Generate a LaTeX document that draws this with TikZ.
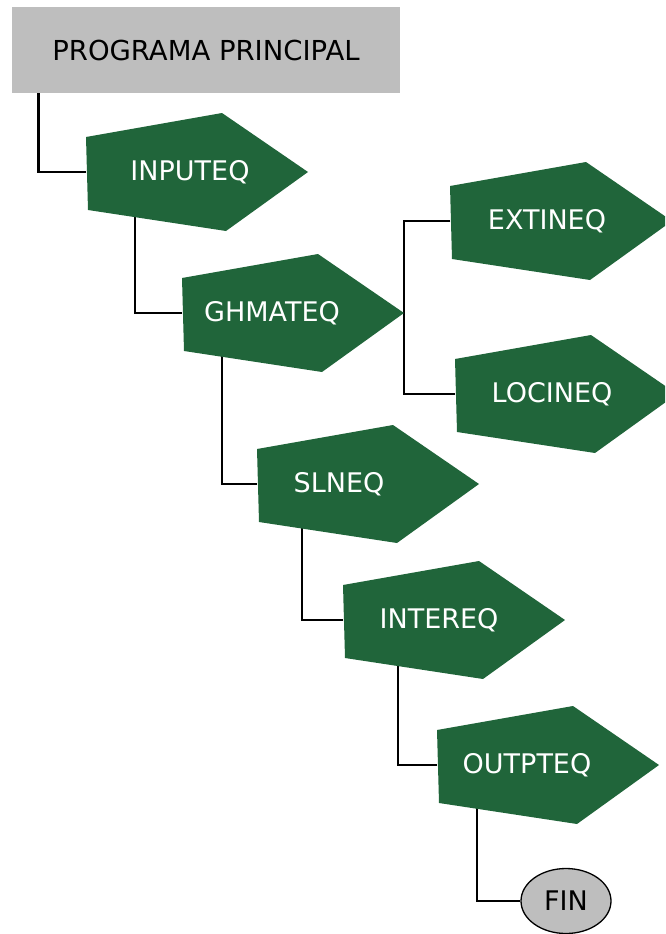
\documentclass[tikz,border=0pt]{standalone}
\usepackage{fontspec}
\setmainfont{DejaVu Sans}
\usetikzlibrary{calc,backgrounds,shapes.geometric}

\definecolor{verdemod}{RGB}{32,101,58}
\definecolor{grismod}{RGB}{190,190,190}

\tikzset{
  modfill/.style={fill=verdemod},
  etiq/.style={text=white, font=\fontsize{27}{31}\selectfont, anchor=base, inner sep=0pt},
  conector/.style={draw=black, line width=2.8pt},
}

% modulo: nombre, punto izquierdo, desplazamiento del texto, texto
\newcommand{\modulo}[4]{%
  \coordinate (#1) at (#2);
  \coordinate (#1-p) at ($(#1)+(222,0)$);
  \fill[modfill] (#1) ++(0,-35) -- ++(136,-24) -- ++(86,59) -- ++(-82,59) -- ++(-138,-21) -- cycle;
  \node[etiq] (#1-txt) at ($(#1)+(#3,8)$) {#4};
}

\begin{document}
\begin{tikzpicture}[x=1pt,y=-1pt]
    \useasboundingbox (0,0) rectangle (665,934);
    \clip (0,0) rectangle (665,934);

    \node[fill=grismod, minimum width=388pt, minimum height=86pt, inner sep=0pt,
          font=\fontsize{27.5}{31}\selectfont] (prog) at (206,50) {PROGRAMA PRINCIPAL};

    \modulo{inp}{86,172}{104}{INPUTEQ}
    \modulo{ghm}{182,313}{90}{GHMATEQ}
    \modulo{ext}{450,221}{97}{EXTINEQ}
    \modulo{loc}{455,394}{97}{LOCINEQ}
    \modulo{sln}{257,484}{82}{SLNEQ}
    \modulo{int}{343,620}{96}{INTEREQ}
    \modulo{out}{437,765}{90}{OUTPTEQ}

    \node[ellipse, draw=black, line width=1.3pt, fill=grismod, minimum width=90pt, minimum height=65pt,
          inner sep=0pt, font=\fontsize{27}{31}\selectfont] (fin) at (566,901) {FIN};

    \begin{pgfonlayer}{background}
        \draw[conector] ($(prog.south west)+(27,0)$) |- (inp);
        \draw[conector] ($(inp)+(49,0)$) |- (ghm);
        \draw[conector] ($(ghm)+(40,0)$) |- (sln);
        \draw[conector] ($(sln)+(45,0)$) |- (int);
        \draw[conector] ($(int)+(55,0)$) |- (out);
        \draw[conector] ($(out)+(40,0)$) |- (fin);
        \draw[conector] (ext) -| (ghm-p) |- (loc);
    \end{pgfonlayer}
\end{tikzpicture}
\end{document}
